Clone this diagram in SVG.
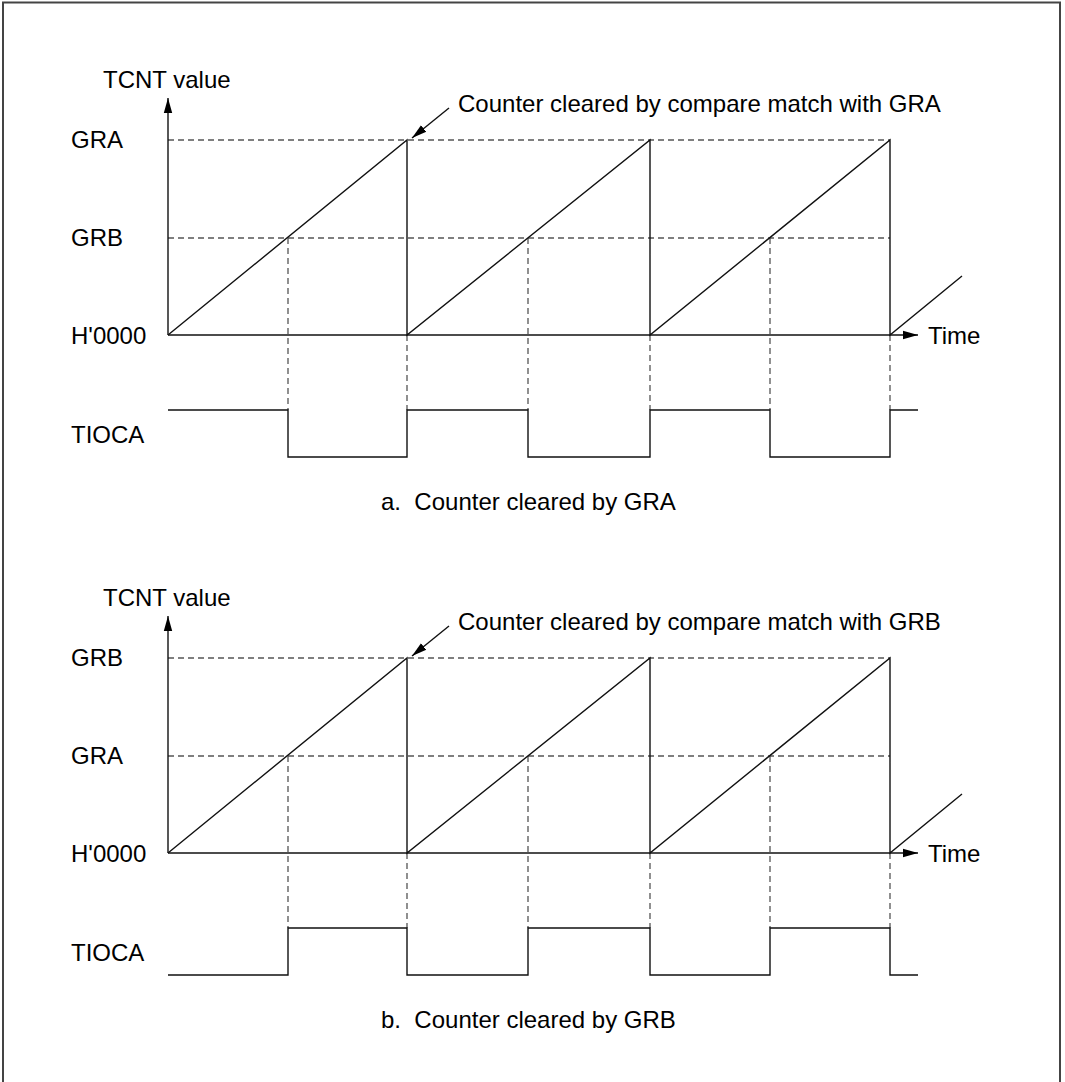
<svg xmlns="http://www.w3.org/2000/svg" width="1065" height="1082" viewBox="0 0 1065 1082">
<style>
text{font-family:"Liberation Sans",Arial,sans-serif;font-size:24px;fill:#000}
.ln{stroke:#111;stroke-width:1.4;fill:none}
.ds{stroke:#555;stroke-width:1.3;stroke-dasharray:6,4;fill:none}
</style>
<defs>
<marker id="ah" markerWidth="16" markerHeight="10" refX="15" refY="5" orient="auto" markerUnits="userSpaceOnUse"><path d="M0,0.8 L15,5 L0,9.2 Z" fill="#000"/></marker>
</defs>
<rect width="1065" height="1082" fill="#fff"/>
<path d="M3,1082 V2.5 H1060 V1082" stroke="#444" stroke-width="2" fill="none"/>

<g id="chart-a">
<g id="a-labels">
<text x="103" y="88">TCNT value</text>
<text x="71" y="148">GRA</text>
<text x="71" y="246">GRB</text>
<text x="71" y="344">H'0000</text>
<text x="71" y="443">TIOCA</text>
<text x="928" y="344">Time</text>
<text x="458" y="112">Counter cleared by compare match with GRA</text>
<text x="381" y="510" xml:space="preserve">a.  Counter cleared by GRA</text>
</g>
<g id="a-connectors">
<path class="ds" d="M168,140 H890 M168,238 H890"/>
<path class="ds" d="M288,238 V410 M407,335 V410 M528,238 V410 M650,335 V410 M770,238 V410 M890,335 V410"/>
<line class="ln" x1="168" y1="335" x2="168" y2="98" marker-end="url(#ah)"/>
<line class="ln" x1="168" y1="335" x2="918" y2="335" marker-end="url(#ah)"/>
<path class="ln" d="M168,335 L407,140 V335 L650,140 V335 L890,140 V335 L962,276"/>
<path class="ln" d="M168,410 H288 V457 H407 V410 H528 V457 H650 V410 H770 V457 H890 V410 H918"/>
<line class="ln" x1="449" y1="108" x2="412" y2="138" marker-end="url(#ah)"/>
</g>
</g>

<g id="chart-b">
<g id="b-labels">
<text x="103" y="606">TCNT value</text>
<text x="71" y="666">GRB</text>
<text x="71" y="764">GRA</text>
<text x="71" y="862">H'0000</text>
<text x="71" y="961">TIOCA</text>
<text x="928" y="862">Time</text>
<text x="458" y="630">Counter cleared by compare match with GRB</text>
<text x="381" y="1028" xml:space="preserve">b.  Counter cleared by GRB</text>
</g>
<g id="b-connectors">
<path class="ds" d="M168,658 H890 M168,756 H890"/>
<path class="ds" d="M288,756 V928 M407,853 V928 M528,756 V928 M650,853 V928 M770,756 V928 M890,853 V928"/>
<line class="ln" x1="168" y1="853" x2="168" y2="616" marker-end="url(#ah)"/>
<line class="ln" x1="168" y1="853" x2="918" y2="853" marker-end="url(#ah)"/>
<path class="ln" d="M168,853 L407,658 V853 L650,658 V853 L890,658 V853 L962,794"/>
<path class="ln" d="M168,975 H288 V928 H407 V975 H528 V928 H650 V975 H770 V928 H890 V975 H918"/>
<line class="ln" x1="449" y1="626" x2="412" y2="656" marker-end="url(#ah)"/>
</g>
</g>
</svg>
